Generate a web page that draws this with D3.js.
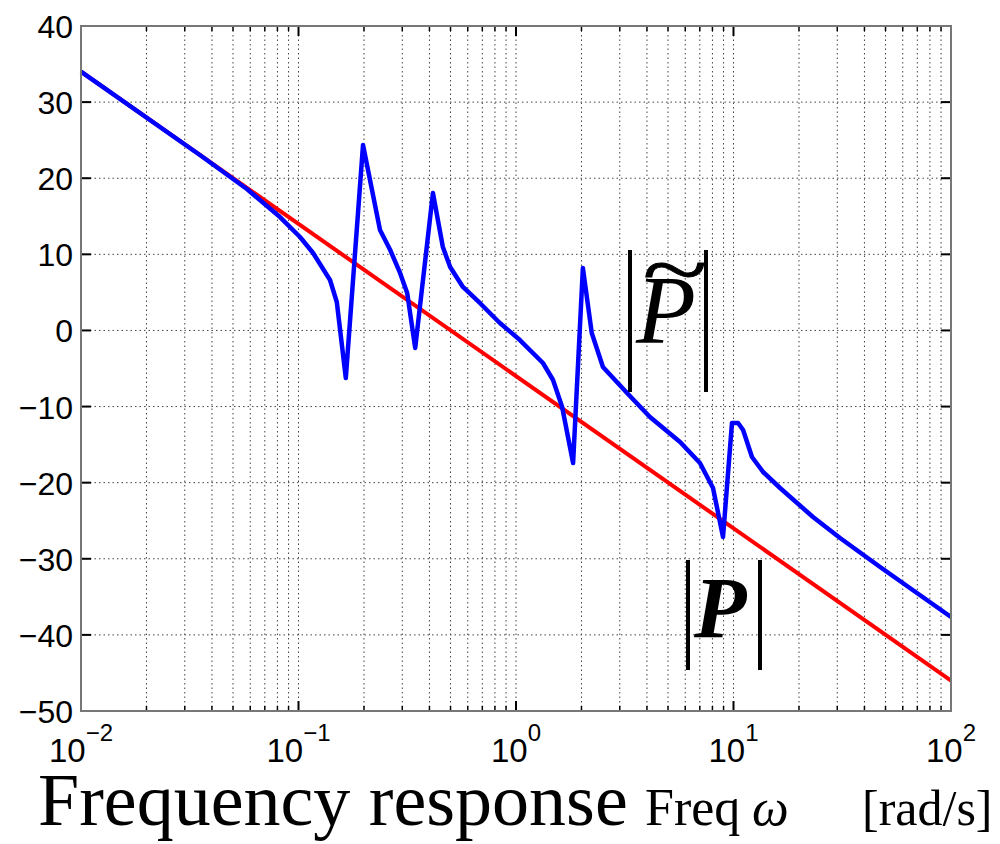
<!DOCTYPE html>
<html><head><meta charset="utf-8">
<script src="https://cdn.jsdelivr.net/npm/d3@7"></script>
<style>body{margin:0;background:#fff}</style>
</head><body><svg id="c" width="1000" height="844"></svg>
<script>
// ---- data ----
const omegaTilde = [0.01,0.0352,0.0579,0.0822,0.1016,0.1167,0.1396,0.150,0.165,0.198,0.237,0.264,0.293,0.316,0.344,0.415,0.461,0.498,0.570,0.682,0.843,1.042,1.33,1.48,1.63,1.83,2.03,2.23,2.51,3.24,4.13,5.68,7.01,8.05,8.95,9.84,10.5,11.07,12.16,13.68,16.37,23.2,30.9,47.2,100];
const magTilde = [34,23.05,18.58,14.90,12.28,10.17,6.63,3.74,-6.25,24.36,13.20,10.57,7.55,4.92,-2.31,18.06,10.96,8.33,5.71,3.61,0.98,-1.26,-4.28,-6.51,-10.06,-17.42,8.20,-0.34,-4.80,-8.22,-11.37,-14.66,-17.42,-20.70,-27.14,-12.16,-12.16,-13.08,-16.63,-18.60,-20.70,-24.51,-27.27,-31.08,-37.65];
const omegaP = [0.01, 100];
const magP = [34, -46];
const yTicks = [40,30,20,10,0,-10,-20,-30,-40,-50];
const xTickExps = [-2,-1,0,1,2];
const titleText = "Frequency response";
const axisLabelParts = ["Freq", "ω", "[rad/s]"];

// ---- chart ----
const svg = d3.select("#c");
const L=81,R=951,T=26,B=711;
const x = d3.scaleLog().domain([0.01,100]).range([L,R]);
const y = d3.scaleLinear().domain([-50,40]).range([B,T]);

// grid
const g = svg.append("g");
const minor = [];
xTickExps.slice(0,-1).forEach(e=>{for(let k=2;k<=9;k++) minor.push(k*Math.pow(10,e));});
const majorX = xTickExps.map(e=>Math.pow(10,e));
[...majorX.slice(1,-1), ...minor].forEach(v=>{
  g.append("line").attr("x1",x(v)).attr("x2",x(v)).attr("y1",T).attr("y2",B)
   .attr("stroke","#444").attr("stroke-width",1).attr("stroke-dasharray","1.5,3");
});
yTicks.slice(1,-1).forEach(v=>{
  g.append("line").attr("x1",L).attr("x2",R).attr("y1",y(v)).attr("y2",y(v))
   .attr("stroke","#444").attr("stroke-width",1).attr("stroke-dasharray","1.5,3");
});

// ticks
yTicks.forEach(v=>{
  g.append("line").attr("x1",L).attr("x2",L+10).attr("y1",y(v)).attr("y2",y(v)).attr("stroke","#000").attr("stroke-width",2);
  g.append("line").attr("x1",R-10).attr("x2",R).attr("y1",y(v)).attr("y2",y(v)).attr("stroke","#000").attr("stroke-width",2);
});
majorX.forEach(v=>{
  g.append("line").attr("x1",x(v)).attr("x2",x(v)).attr("y1",B).attr("y2",B-10).attr("stroke","#000").attr("stroke-width",2);
  g.append("line").attr("x1",x(v)).attr("x2",x(v)).attr("y1",T).attr("y2",T+10).attr("stroke","#000").attr("stroke-width",2);
});
minor.forEach(v=>{
  g.append("line").attr("x1",x(v)).attr("x2",x(v)).attr("y1",B).attr("y2",B-5).attr("stroke","#000").attr("stroke-width",1.5);
  g.append("line").attr("x1",x(v)).attr("x2",x(v)).attr("y1",T).attr("y2",T+5).attr("stroke","#000").attr("stroke-width",1.5);
});

// lines
const line = d3.line().x(d=>x(d[0])).y(d=>y(d[1]));
svg.append("path").datum(omegaP.map((w,i)=>[w,magP[i]])).attr("d",line)
  .attr("fill","none").attr("stroke","#ff0000").attr("stroke-width",4);
svg.append("path").datum(omegaTilde.map((w,i)=>[w,magTilde[i]])).attr("d",line)
  .attr("fill","none").attr("stroke","#0000ff").attr("stroke-width",4.5).attr("stroke-linejoin","round");

// box
svg.append("rect").attr("x",L).attr("y",T).attr("width",R-L).attr("height",B-T)
  .attr("fill","none").attr("stroke","#777").attr("stroke-width",2);

// tick labels
const fmt = v => (v<0?"\u2212"+Math.abs(v):String(v));
yTicks.forEach(v=>{
  svg.append("text").attr("x",73).attr("y",y(v)+12).attr("text-anchor","end")
    .attr("font-family","'Liberation Sans',Arial,sans-serif").attr("font-size",32).text(fmt(v));
});
xTickExps.forEach(e=>{
  const t = svg.append("text").attr("x",x(Math.pow(10,e))).attr("y",762).attr("text-anchor","middle")
    .attr("font-family","'Liberation Sans',Arial,sans-serif").attr("font-size",33);
  t.append("tspan").text("10");
  t.append("tspan").attr("dy",-21).attr("font-size",24).text(fmt(e));
});

// title and axis label
svg.append("text").attr("x",38).attr("y",825).attr("font-family","'Liberation Serif','Times New Roman',serif")
  .attr("font-size",74).text(titleText);
svg.append("text").attr("x",645).attr("y",825).attr("font-family","'Liberation Serif',serif")
  .attr("font-size",52).text(axisLabelParts[0]);
svg.append("text").attr("x",752).attr("y",825).attr("font-family","'Liberation Serif',serif")
  .attr("font-style","italic").attr("font-size",52).text(axisLabelParts[1]);
svg.append("text").attr("x",862).attr("y",825).attr("font-family","'Liberation Serif',serif")
  .attr("font-size",50).text(axisLabelParts[2]);

// annotations
function bars(x1,x2,y1,y2){
  [x1,x2].forEach(xx=>svg.append("line").attr("x1",xx).attr("x2",xx).attr("y1",y1).attr("y2",y2)
    .attr("stroke","#000").attr("stroke-width",4));
}
bars(630,706,250,392);
svg.append("text").attr("x",636).attr("y",343).attr("font-family","'Liberation Serif',serif")
  .attr("font-style","italic").attr("font-size",98).text("P");
svg.append("text").attr("transform","translate(675,297) scale(1.5,1)").attr("text-anchor","middle")
  .attr("font-family","'Liberation Serif',serif").attr("font-size",80)
  .attr("stroke","#000").attr("stroke-width",0.8).text("~");
bars(688,760,560,670);
svg.append("text").attr("x",694).attr("y",637).attr("font-family","'Liberation Serif',serif")
  .attr("font-style","italic").attr("font-weight","bold").attr("font-size",86).text("P");
</script></body></html>
